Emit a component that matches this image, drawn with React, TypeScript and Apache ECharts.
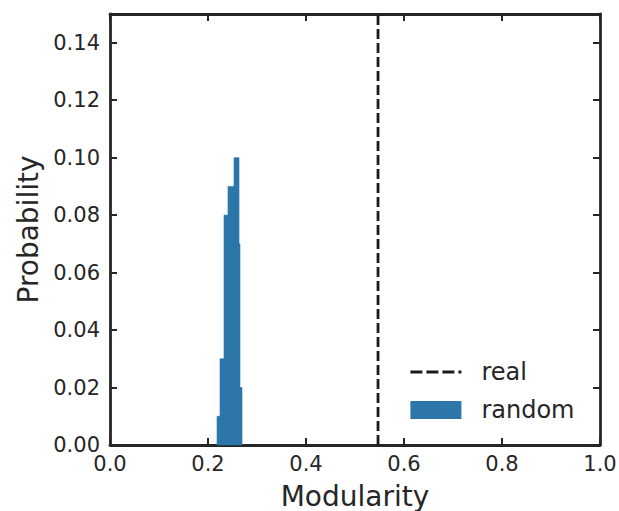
import React, { useEffect, useRef } from "react";
import * as echarts from "echarts";

// Histogram of modularity for random networks (bin start, bin end, probability)
const binStart = [0.2184, 0.2245, 0.2327, 0.2408, 0.2531, 0.2633, 0.2653];
const binEnd = [0.2245, 0.2327, 0.2408, 0.2531, 0.2633, 0.2653, 0.2694];
const binProb = [0.01, 0.03, 0.08, 0.09, 0.1, 0.07, 0.02];

// Modularity of the real network
const realModularity = 0.547;

const xTicks = [0, 0.2, 0.4, 0.6, 0.8, 1.0];
const yTicks = [0, 0.02, 0.04, 0.06, 0.08, 0.1, 0.12, 0.14];

const FONT = "DejaVu Sans";
const INK = "#262626";
const BLUE = "#2c76aa";

export default function App() {
  const ref = useRef<HTMLDivElement>(null);
  useEffect(() => {
    document.body.style.margin = "0";
    if (!ref.current) return;
    const chart = echarts.init(ref.current, undefined, { renderer: "svg" });
    const histData = binStart.map((s, i) => [s, binEnd[i], binProb[i]]);
    const axisLineStyle = { color: INK, width: 2.8 };
    const tickStyle = { color: INK, width: 2 };
    const xCommon = {
      type: "value" as const,
      min: xTicks[0],
      max: xTicks[xTicks.length - 1],
      interval: 0.2,
      splitLine: { show: false },
      axisLine: { show: true, onZero: false, lineStyle: axisLineStyle },
      axisTick: { show: true, inside: true, length: 7, lineStyle: tickStyle },
    };
    const yCommon = {
      type: "value" as const,
      min: yTicks[0],
      max: 0.15,
      interval: 0.02,
      splitLine: { show: false },
      axisLine: { show: true, onZero: false, lineStyle: axisLineStyle },
      axisTick: { show: true, inside: true, length: 7, lineStyle: tickStyle },
    };
    chart.setOption({
      animation: false,
      backgroundColor: "#ffffff",
      textStyle: { fontFamily: FONT },
      grid: {
        left: 110,
        top: 14,
        width: 490,
        height: 431,
        containLabel: false,
        outerBoundsMode: "none",
      },
      legend: {
        orient: "vertical",
        left: 409,
        top: 360,
        padding: 0,
        itemGap: 14,
        itemWidth: 51,
        itemHeight: 18,
        textStyle: {
          fontFamily: FONT,
          fontSize: 24,
          color: INK,
          padding: [0, 0, 0, 15],
        },
        data: [
          {
            name: "real",
            itemStyle: { color: "rgba(0,0,0,0)", borderWidth: 0, opacity: 0 },
            lineStyle: { color: "#1a1a1a", width: 2.8, type: [12, 4] },
          },
          { name: "random", icon: "rect" },
        ],
      },
      xAxis: [
        {
          ...xCommon,
          position: "bottom",
          name: "Modularity",
          nameLocation: "middle",
          nameGap: 37,
          nameTextStyle: { fontFamily: FONT, fontSize: 28, color: INK },
          axisLabel: {
            fontFamily: FONT,
            fontSize: 21,
            color: INK,
            margin: 8,
            formatter: (v: number) => v.toFixed(1),
          },
        },
        {
          ...xCommon,
          position: "top",
          axisLabel: { show: false },
        },
      ],
      yAxis: [
        {
          ...yCommon,
          position: "left",
          name: "Probability",
          nameLocation: "middle",
          nameGap: 65,
          nameTextStyle: { fontFamily: FONT, fontSize: 28, color: INK },
          axisLabel: {
            fontFamily: FONT,
            fontSize: 21,
            color: INK,
            margin: 10,
            showMaxLabel: false,
            formatter: (v: number) => v.toFixed(2),
          },
        },
        {
          ...yCommon,
          position: "right",
          axisLabel: { show: false },
        },
      ],
      series: [
        {
          name: "real",
          type: "line",
          xAxisIndex: 0,
          yAxisIndex: 0,
          symbol: "none",
          data: [
            [realModularity, 0],
            [realModularity, 0.15],
          ],
          lineStyle: { color: "#1a1a1a", width: 2.8, type: [10, 4] },
          itemStyle: { color: "#1a1a1a" },
          z: 3,
        },
        {
          name: "random",
          type: "custom",
          xAxisIndex: 0,
          yAxisIndex: 0,
          itemStyle: { color: BLUE },
          encode: { x: [0, 1], y: 2 },
          data: histData,
          renderItem: (params: any, api: any) => {
            const x0 = api.value(0);
            const x1 = api.value(1);
            const y = api.value(2);
            const p0 = api.coord([x0, y]);
            const p1 = api.coord([x1, 0]);
            return {
              type: "rect",
              shape: {
                x: p0[0],
                y: p0[1],
                width: p1[0] - p0[0],
                height: p1[1] - p0[1],
              },
              style: api.style({ fill: BLUE, stroke: BLUE, lineWidth: 0.6 }),
            };
          },
          z: 2,
        },
      ],
    });
    return () => chart.dispose();
  }, []);
  return <div ref={ref} style={{ width: 619, height: 511 }} />;
}
